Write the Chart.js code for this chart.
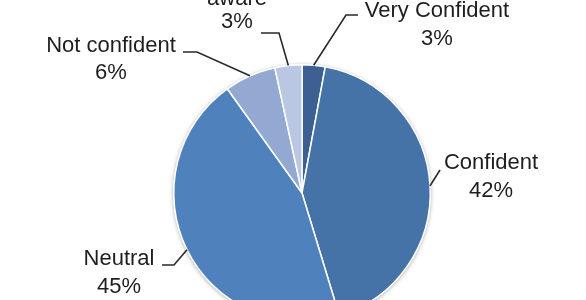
<!DOCTYPE html>
<html>
<head>
<meta charset="utf-8">
<script src="https://cdn.jsdelivr.net/npm/chart.js@4.4.1/dist/chart.umd.min.js"></script>
<style>
  html, body { margin: 0; padding: 0; background: #ffffff; overflow: hidden; }
  #wrap { width: 586px; height: 300px; overflow: hidden; position: relative; }
  canvas { display: block; }
</style>
</head>
<body>
<div id="wrap"><canvas id="c" width="586" height="332"></canvas></div>
<script>
// ---- data ----
const categories = ["Very Confident", "Confident", "Neutral", "Not confident", "Not aware"];
const shares = [2.9, 42.4, 44.8, 6.5, 3.4];
const shareLabels = ["3%", "42%", "45%", "6%", "3%"];
const sliceColors = ["#3c6092", "#4573a8", "#4f81bd", "#94a9d1", "#b9c7e2"];

// label layout (text anchor, line gap, leader elbow/end) per category
const labelLayout = [
  { lines: ["Very Confident"], cx: 437, y0: 17, gap: 28, elbow: [346, 15], end: [358, 15] },
  { lines: ["Confident"],      cx: 491, y0: 169, gap: 28, elbow: null, end: [440, 170] },
  { lines: ["Neutral"],        cx: 119, y0: 265, gap: 28, elbow: [174, 265], end: [162, 265] },
  { lines: ["Not confident"],  cx: 111, y0: 52, gap: 27, elbow: [197, 52], end: [183, 52] },
  { lines: ["Not", "aware"],   cx: 237, y0: -18, gap: 23, elbow: [279, 33], end: [261, 33] }
];

const FONT = '22px "Liberation Sans", Arial, Helvetica, sans-serif';

const shadowPlugin = {
  id: 'pieShadow',
  beforeDatasetsDraw(chart) {
    const arc = chart.getDatasetMeta(0).data[0];
    if (!arc) return;
    const { x, y, outerRadius } = arc.getProps(['x', 'y', 'outerRadius'], true);
    const ctx = chart.ctx;
    ctx.save();
    ctx.shadowColor = 'rgba(0,0,0,0.35)';
    ctx.shadowBlur = 4;
    ctx.shadowOffsetX = 0;
    ctx.shadowOffsetY = 1;
    ctx.beginPath();
    ctx.arc(x, y, outerRadius + 0.5, 0, Math.PI * 2);
    ctx.fillStyle = '#ffffff';
    ctx.fill();
    ctx.restore();
  }
};

const labelPlugin = {
  id: 'pieLabels',
  afterDatasetsDraw(chart) {
    const ctx = chart.ctx;
    const meta = chart.getDatasetMeta(0);
    ctx.save();
    meta.data.forEach((arc, i) => {
      const p = arc.getProps(['x', 'y', 'startAngle', 'endAngle', 'outerRadius'], true);
      const mid = (p.startAngle + p.endAngle) / 2;
      const sx = p.x + Math.cos(mid) * p.outerRadius;
      const sy = p.y + Math.sin(mid) * p.outerRadius;
      const L = labelLayout[i];
      ctx.beginPath();
      ctx.moveTo(sx, sy);
      if (L.elbow) ctx.lineTo(L.elbow[0], L.elbow[1]);
      ctx.lineTo(L.end[0], L.end[1]);
      ctx.strokeStyle = '#2a2a2a';
      ctx.lineWidth = 1.6;
      ctx.stroke();

      ctx.font = FONT;
      ctx.fillStyle = '#1e1e1e';
      ctx.textAlign = 'center';
      ctx.textBaseline = 'alphabetic';
      const lines = L.lines.concat([shareLabels[i]]);
      lines.forEach((t, k) => ctx.fillText(t, L.cx, L.y0 + k * L.gap));
    });
    ctx.restore();
  }
};

new Chart(document.getElementById('c'), {
  type: 'pie',
  data: {
    labels: categories,
    datasets: [{
      data: shares,
      backgroundColor: sliceColors,
      borderColor: '#ffffff',
      borderWidth: 1.5
    }]
  },
  options: {
    responsive: false,
    animation: false,
    layout: { padding: { top: 64, bottom: 10, left: 18, right: 0 } },
    plugins: {
      legend: { display: false },
      tooltip: { enabled: false }
    }
  },
  plugins: [shadowPlugin, labelPlugin]
});
</script>
</body>
</html>
